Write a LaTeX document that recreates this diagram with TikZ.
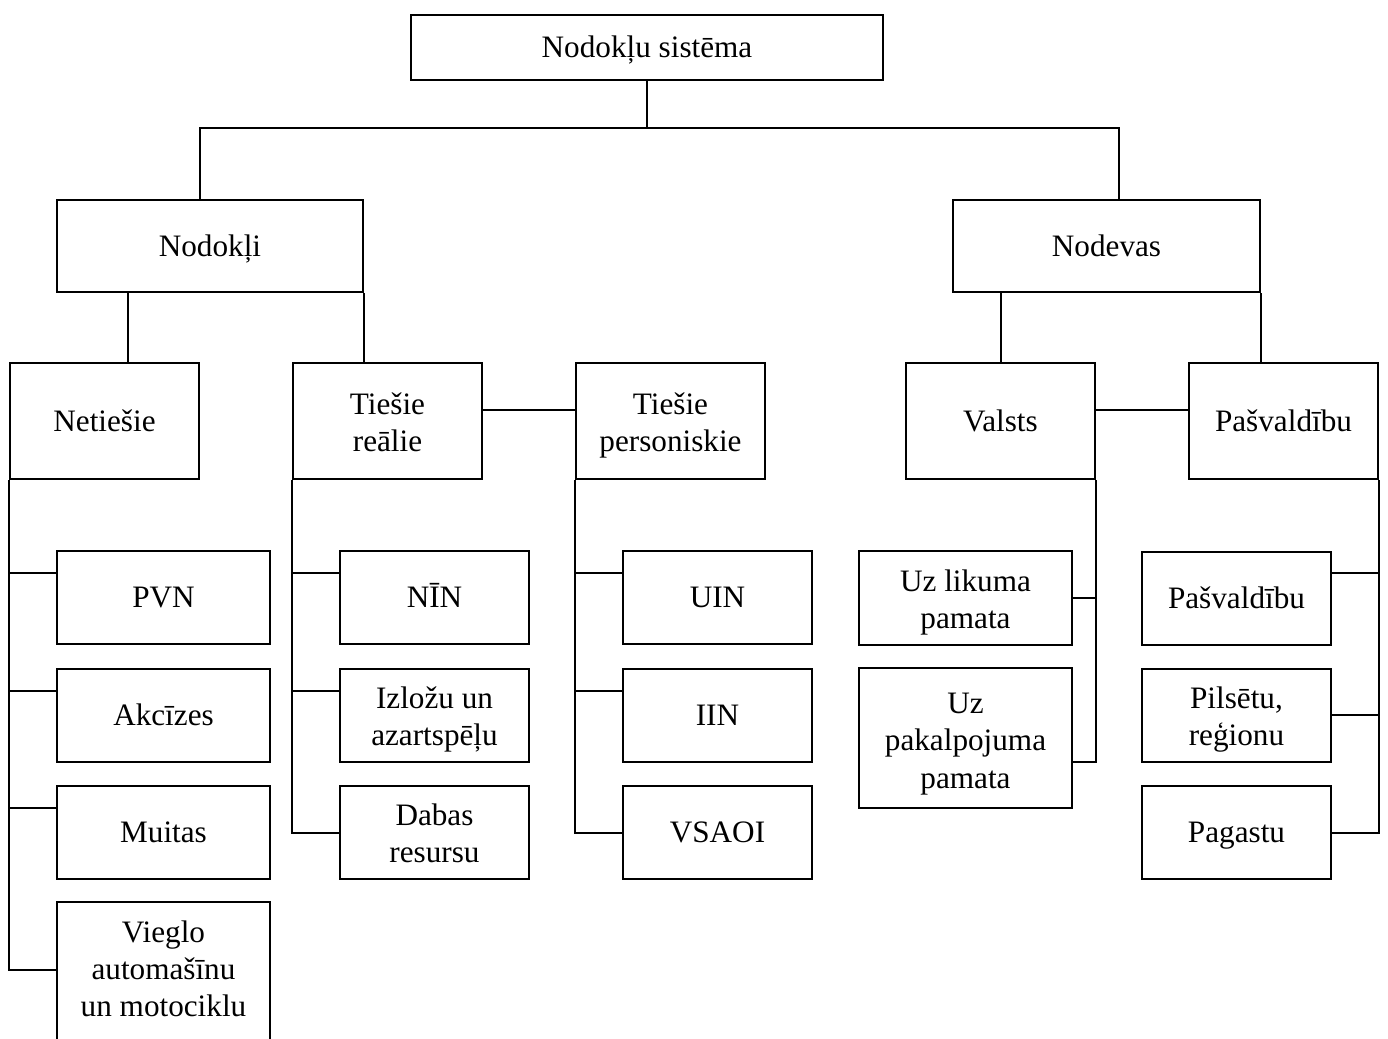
\documentclass[tikz,border=0pt]{standalone}
\usepackage{fontspec}
\setmainfont{Liberation Serif}
\usetikzlibrary{positioning}
\newcommand{\boxstrut}{\rule[-3.3pt]{0pt}{16.9pt}}

\begin{document}
\begin{tikzpicture}[x=0.5pt,y=-0.5pt]
		\tikzstyle{rect} = [rectangle, draw=black, line width=1pt, inner sep=0pt, align=center, text centered, font=\fontsize{15.6pt}{18.6pt}\selectfont, execute at begin node=\boxstrut, execute at end node=\boxstrut]
		\tikzstyle{twoline} = [text height=33.7pt, text depth=3.3pt]
		\tikzstyle{threeline} = [text height=53.3pt, text depth=3.3pt]
		\tikzstyle{wide} = [rect, minimum width=106.5pt, minimum height=46.5pt]
		\tikzstyle{narrow} = [rect, minimum width=94.5pt, minimum height=46.5pt]
		\tikzstyle{mid} = [rect, minimum width=94.5pt, minimum height=58pt]
		\tikzstyle{line} = [line width=1pt]
		\useasboundingbox (0,0) rectangle (1388,1039);
		% top levels
		\node (sistema) [rect, minimum width=236pt, minimum height=32.5pt] at (647,47.5) {Nodokļu sistēma};
		\node (nodokli) [rect, minimum width=153pt, minimum height=46pt] at (210,246) {Nodokļi};
		\node (nodevas) [rect, minimum width=153.5pt, minimum height=46pt] at (1106.5,246) {Nodevas};
		\node (netiesie) [mid] at (104.5,421) {Netiešie};
		\node (tiesreal) [mid, twoline] at (387.5,421) {Tiešie\\reālie};
		\node (tiespers) [mid, twoline] at (670.5,421) {Tiešie\\personiskie};
		\node (valsts) [mid] at (1000.5,421) {Valsts};
		\node (pasv) [mid] at (1283.5,421) {Pašvaldību};
		% leaves
		\node (pvn) [wide] at (163.5,597.5) {PVN};
		\node (akcizes) [wide] at (163.5,715.5) {Akcīzes};
		\node (muitas) [wide] at (163.5,832.5) {Muitas};
		\node (vieglo) [wide, minimum height=72.5pt, text height=45.3pt, text depth=3.3pt] at (163.5,974.5) {Vieglo\\automašīnu\\un motociklu};
		\node (nin) [narrow] at (434.5,597.5) {NĪN};
		\node (izlozu) [narrow, twoline] at (434.5,715.5) {Izložu un\\azartspēļu};
		\node (dabas) [narrow, twoline] at (434.5,832.5) {Dabas\\resursu};
		\node (uin) [narrow] at (717.5,597.5) {UIN};
		\node (iin) [narrow] at (717.5,715.5) {IIN};
		\node (vsaoi) [narrow] at (717.5,832.5) {VSAOI};
		\node (likuma) [wide, twoline, minimum height=47pt] at (965.5,598) {Uz likuma\\pamata};
		\node (pakalp) [wide, threeline, minimum height=70pt] at (965.5,738) {Uz\\pakalpojuma\\pamata};
		\node (pasvb) [narrow] at (1236.5,598) {Pašvaldību};
		\node (pilsetu) [narrow, twoline] at (1236.5,715) {Pilsētu,\\reģionu};
		\node (pagastu) [narrow] at (1236.5,832.5) {Pagastu};
		% upper connectors
		\coordinate (barL) at (199.5,128);
		\coordinate (barR) at (1119,128);
		\draw[line] (sistema.south) -- (sistema.south |- barL);
		\draw[line] (nodokli.north -| barL) -- (barL) -- (barR) -- (nodevas.north -| barR);
		\draw[line] (nodokli.south -| 128,0) -- (netiesie.north -| 128,0);
		\draw[line] (nodokli.south east) -- (nodokli.south east |- tiesreal.north);
		\draw[line] (nodevas.south -| valsts.north) -- (valsts.north);
		\draw[line] (nodevas.south east) -- (nodevas.south east |- pasv.north);
		\draw[line] ([yshift=5.5pt]tiesreal.east) -- ([yshift=5.5pt]tiespers.west);
		\draw[line] ([yshift=5.5pt]valsts.east) -- ([yshift=5.5pt]pasv.west);
		% Netiesie
		\draw[line] (netiesie.south west) |- ([yshift=-34.5pt]vieglo.north west);
		\foreach \n in {pvn,akcizes,muitas}
			\draw[line] ([yshift=-11.5pt]\n.north west) -- ([yshift=-11.5pt]\n.north west -| netiesie.west);
		% Tiesie realie
		\draw[line] (tiesreal.south west) |- (dabas.west);
		\foreach \n in {nin,izlozu}
			\draw[line] ([yshift=-11.5pt]\n.north west) -- ([yshift=-11.5pt]\n.north west -| tiesreal.west);
		% Tiesie personiskie
		\draw[line] (tiespers.south west) |- (vsaoi.west);
		\foreach \n in {uin,iin}
			\draw[line] ([yshift=-11.5pt]\n.north west) -- ([yshift=-11.5pt]\n.north west -| tiespers.west);
		% Valsts
		\draw[line] (valsts.south east) |- ([yshift=23.5pt]pakalp.south east);
		\draw[line] (likuma.east) -- (likuma.east -| valsts.east);
		% Pasvaldibu
		\draw[line] (pasv.south east) |- (pagastu.east);
		\draw[line] ([yshift=-11pt]pasvb.north east) -- ([yshift=-11pt]pasvb.north east -| pasv.east);
		\draw[line] (pilsetu.east) -- (pilsetu.east -| pasv.east);
	\end{tikzpicture}
\end{document}
